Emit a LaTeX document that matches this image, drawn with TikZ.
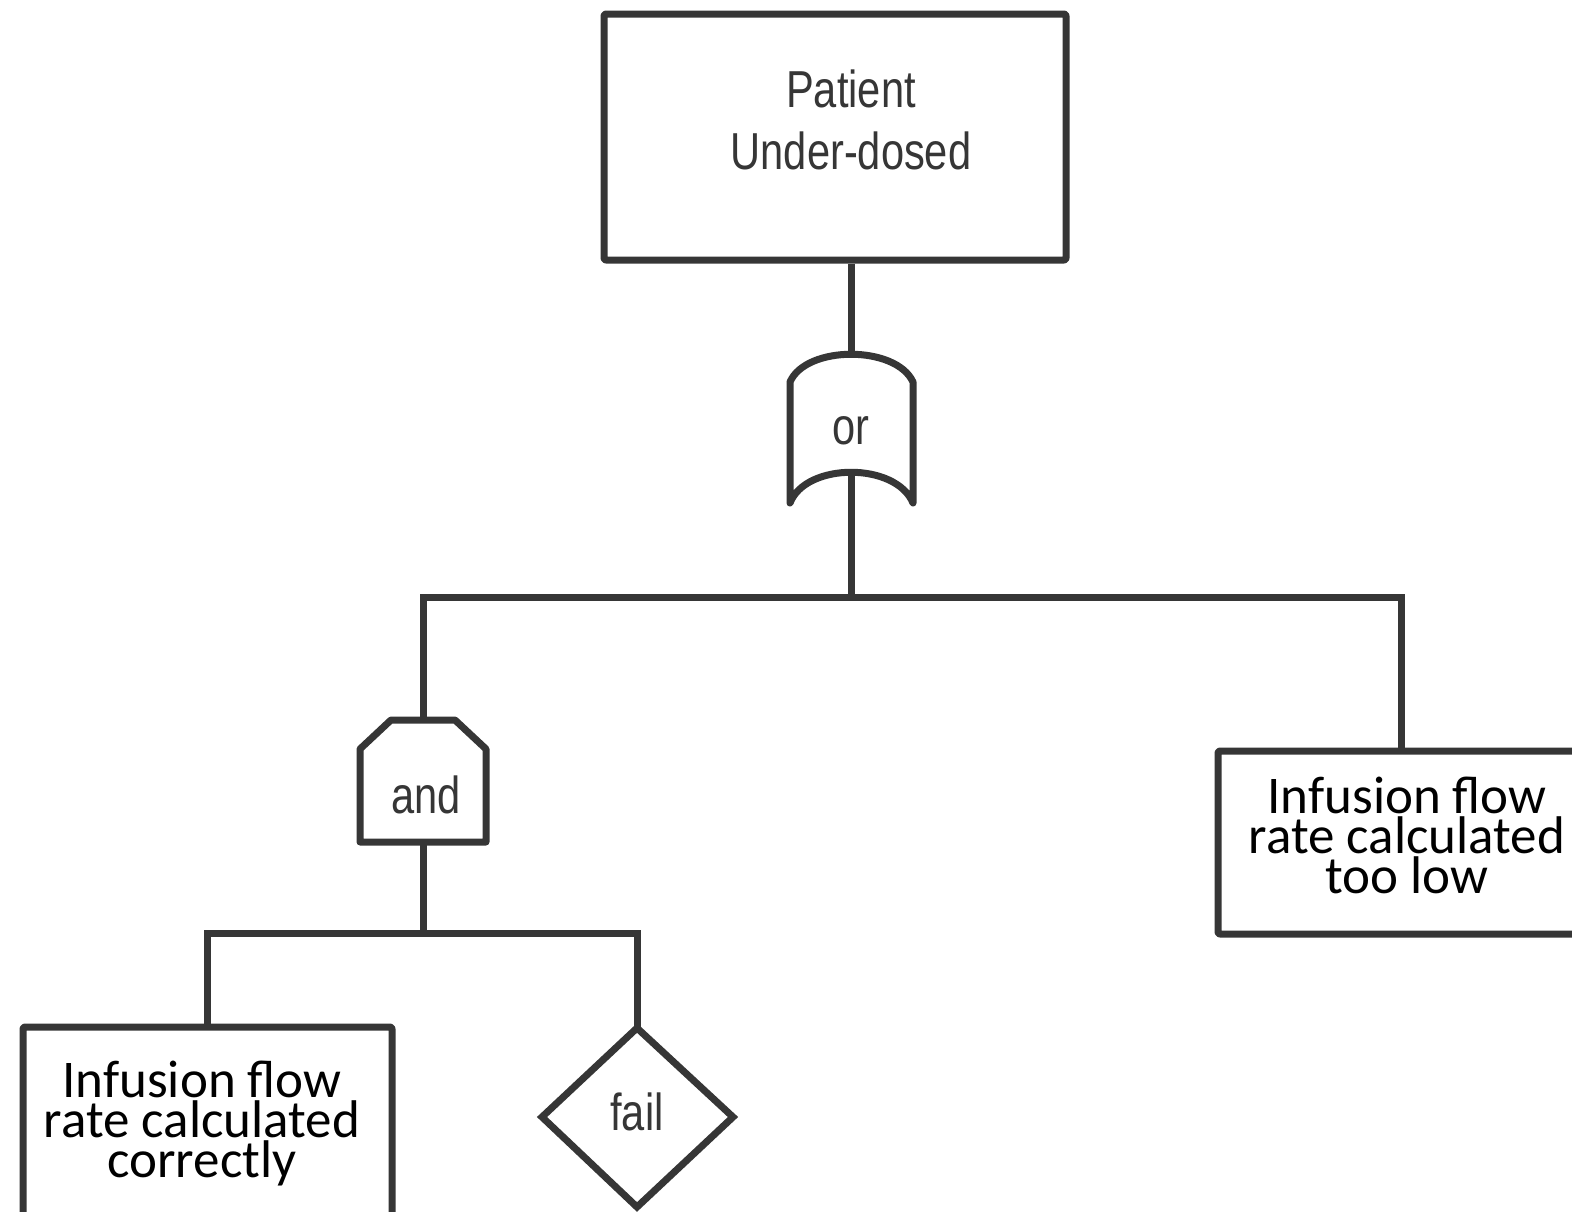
\documentclass[tikz,border=0pt]{standalone}
\usepackage{fontspec}
\newfontfamily\gatefont[FakeStretch=0.8]{Liberation Sans}
\newfontfamily\boxfont{Carlito}
\definecolor{ink}{HTML}{363636}
\tikzset{
  outline/.style={draw=ink, line width=7pt, line join=round, fill=white},
  conn/.style={draw=ink, line width=7pt, line join=miter},
  eventbox/.style={outline, rectangle, rounded corners=2pt, inner sep=0pt},
  gatetext/.style={text=ink, font=\gatefont\fontsize{52}{62}\selectfont, align=center, inner sep=0pt},
  boxtext/.style={text=black, font=\boxfont\fontsize{53}{40}\selectfont, align=center, inner sep=0pt, anchor=base},
}
\begin{document}
\begin{tikzpicture}[x=1pt,y=-1pt]
\useasboundingbox (0,0) rectangle (1572,1211);
\clip (0,0) rectangle (1572,1211);
\fill[white] (0,0) rectangle (1572,1211);

% top event
\node[eventbox, minimum width=462pt, minimum height=246pt] (top) at (835,137) {};
\node[gatetext] (toptext) at (851,120) {Patient\\Under-dosed};

% or gate
\coordinate (orIn) at (851,354);
\coordinate (orOut) at (851,473);
\coordinate (orJoin) at (851,597);
\draw[outline] (790,382) -- (790,503) .. controls (806,462) and (896,462) .. (913,503)
  -- (913,382) .. controls (896,345) and (806,345) .. (790,382) -- cycle;
\node[gatetext] (orlabel) at (851,431) {or};

% and gate
\coordinate (andIn) at (423,720);
\coordinate (andOut) at (423,842);
\coordinate (andJoin) at (423,933);
\draw[outline] (360,749) -- (391,720) -- (455,720) -- (486,749) -- (486,842) -- (360,842) -- cycle;
\node[gatetext] (andlabel) at (426,795) {and};

% basic events (text anchored on the baseline of the last line)
\node[eventbox, minimum width=366pt, minimum height=183pt] (rbox) at (1401,842.5) {};
\node[boxtext] (rtext) at (1407,893) {Infusion flow\\rate calculated\\too low};

\node[eventbox, minimum width=369pt, minimum height=196pt] (lbox) at (207.5,1125) {};
\node[boxtext] (ltext) at (202,1177) {Infusion flow\\rate calculated\\correctly};

% undeveloped event
\coordinate (dTop) at (637,1028);
\draw[outline, line join=miter] (dTop) -- (733,1117) -- (637,1207) -- (542,1117) -- cycle;
\node[gatetext] (faillabel) at (637,1112) {fail};

% connectors
\draw[conn] (top.south -| orIn) -- (orIn);
\draw[conn] (orOut) -- (orJoin);
\draw[conn] (andIn) |- (orJoin) -| (rbox.north);
\draw[conn] (andOut) -- (andJoin);
\draw[conn] (lbox.north) |- (andJoin) -| (dTop);
\end{tikzpicture}
\end{document}
